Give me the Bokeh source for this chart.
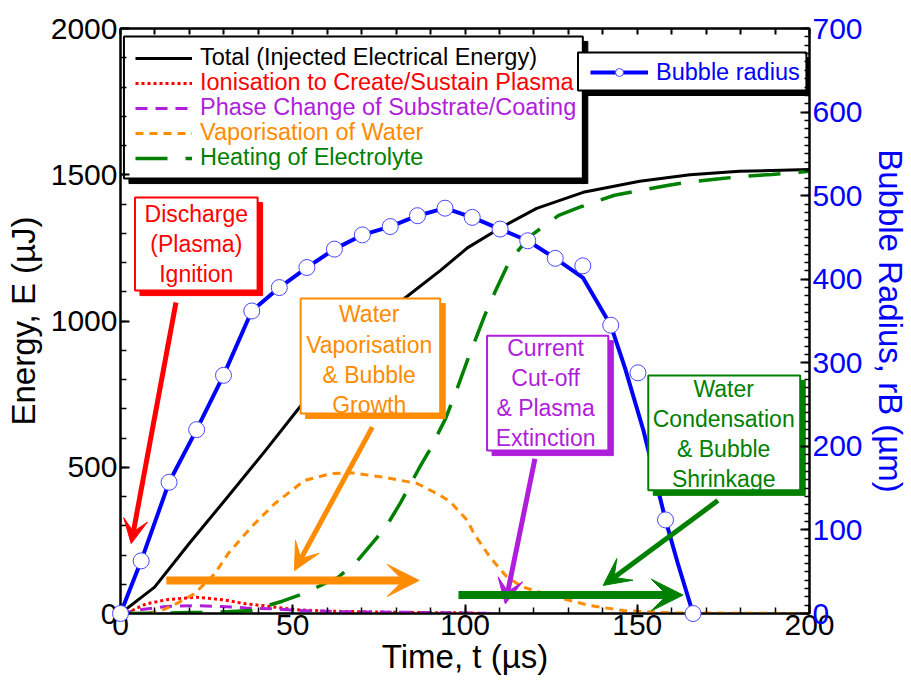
from bokeh.plotting import figure
from bokeh.models import (Range1d, LinearAxis, SingleIntervalTicker, Legend,
                          LegendItem, Arrow, VeeHead)
from bokeh.core.properties import value
from bokeh.embed import file_html
from bokeh.resources import INLINE

FONT = "Liberation Sans"
RED = "#FF0000"
PURPLE = "#B01EDC"
ORANGE = "#FF8C00"
GREEN = "#008000"
BLUE = "#0000FF"

# ---------------- data ----------------
total_t = [0, 9.9, 20, 31.2, 42, 52.4, 62, 72, 82.3, 92.9, 100.7, 110.2, 120.8,
           134.3, 150.7, 165.3, 179.7, 200]
total_e = [0, 90, 240, 400, 556, 711, 840, 962, 1076, 1173, 1250, 1318, 1385,
           1440, 1478, 1500, 1512, 1518]

ion_t = [0, 2.2, 7.5, 13.3, 22, 29.7, 36.4, 41.3, 50.9, 60, 80, 100, 107]
ion_e = [0, 4, 33, 47, 56, 47, 33, 27, 13, 8, 4, 2, 0]

phase_t = [0, 5.6, 13.3, 21.5, 29.2, 36.4, 44.2, 51.9, 65, 85, 100, 109]
phase_e = [0, 13, 24, 27, 24, 19, 16, 10, 6, 4, 2, 0]

vap_t = [0, 7.4, 11.9, 17.1, 21.5, 27.3, 31.2, 37.9, 44.7, 53.4, 61.1, 66.9,
         76.5, 86.2, 92.9, 95.8, 100.7, 102.6, 107.3, 112.2, 116.9, 126.6,
         136.3, 146.0, 160.4, 200]
vap_e = [0, 0, 10, 39, 68, 135, 204, 295, 375, 455, 478, 481, 466, 444, 403,
         381, 318, 273, 192, 124, 90, 56, 27, 10, 2, 0]

heat_t = [0, 9.4, 19.6, 29.7, 37.9, 47.0, 53.1, 63.2, 68.8, 77.0, 81.3, 86.6,
          89.6, 94.4, 97.7, 100.8, 105.9, 108.9, 113.0, 119.1, 127.2, 133.3,
          143.4, 148.5, 158.7, 164.8, 173.9, 180.0, 189.1, 200]
heat_e = [0, 1, 3, 5, 10, 42, 68, 124, 181, 295, 379, 495, 556, 667, 768, 869,
          1024, 1104, 1207, 1292, 1361, 1389, 1430, 1441, 1463, 1475, 1486,
          1494, 1501, 1512]

rad_line_t = [0, 6.0, 14.1, 22.1, 29.9, 38.1, 46.1, 54.1, 62.1, 70.2, 78.3,
              86.2, 94.2, 102.1, 110.2, 118.2, 126.2, 134.2, 142.3, 146.5,
              151.8, 158.2, 161.7, 166.2]
rad_line_r = [0, 63, 157, 220, 285, 362, 390, 414, 436, 453, 463, 476, 485,
              474, 460, 446, 425, 402, 345, 293, 219, 112, 61, 0]

rad_mk_t = [0, 6.0, 14.1, 22.1, 29.9, 38.1, 46.1, 54.1, 62.1, 70.2, 78.3,
            86.2, 94.2, 102.1, 110.2, 118.2, 126.2, 134.2, 142.3, 150.2,
            158.2, 166.2]
rad_mk_r = [0, 63, 157, 220, 285, 362, 390, 414, 436, 453, 463, 476, 485,
            474, 460, 446, 425, 416, 345, 288, 112, 0]

series_labels = ["Total (Injected Electrical Energy)",
                 "Ionisation to Create/Sustain Plasma",
                 "Phase Change of Substrate/Coating",
                 "Vaporisation of Water",
                 "Heating of Electrolyte"]

# ---------------- figure ----------------
p = figure(width=911, height=687, output_backend="svg", toolbar_location=None,
           x_range=Range1d(0, 200), y_range=Range1d(0, 2000),
           min_border_left=120, min_border_right=101, min_border_top=28,
           min_border_bottom=74,
           x_axis_label="Time, t (µs)", y_axis_label="Energy, E (µJ)")
p.extra_y_ranges = {"radius": Range1d(0, 700)}
p.xgrid.visible = False
p.ygrid.visible = False
p.outline_line_color = "black"
p.outline_line_width = 2


def style_axis(ax, color="black"):
    ax.axis_line_width = 2
    ax.axis_line_color = "black"
    ax.major_tick_in = 9
    ax.major_tick_out = 0
    ax.minor_tick_in = 6
    ax.minor_tick_out = 0
    ax.major_tick_line_width = 2
    ax.minor_tick_line_width = 1.5
    ax.major_tick_line_color = "black"
    ax.minor_tick_line_color = "black"
    ax.major_label_text_font = FONT
    ax.major_label_text_font_size = "30px"
    ax.major_label_text_color = color
    ax.major_label_standoff = 3
    ax.axis_label_text_font = FONT
    ax.axis_label_text_font_size = "33px"
    ax.axis_label_text_font_style = "normal"
    ax.axis_label_text_color = color
    ax.axis_label_standoff = 4


xa = p.xaxis[0]
xa.ticker = SingleIntervalTicker(interval=50, num_minor_ticks=5)
style_axis(xa)
xa.major_label_standoff = 1
xa.axis_label_standoff = 0

ya = p.yaxis[0]
ya.ticker = SingleIntervalTicker(interval=500, num_minor_ticks=5)
style_axis(ya)
ya.axis_label_standoff = 6

# top frame axis: ticks only, its labels are not drawn
top = LinearAxis(ticker=SingleIntervalTicker(interval=10, num_minor_ticks=0))
style_axis(top)
top.major_tick_in = 6
top.major_label_text_font_size = "1px"
top.major_label_text_color = None
top.major_label_standoff = 0
p.add_layout(top, "above")

ra = LinearAxis(y_range_name="radius",
                ticker=SingleIntervalTicker(interval=100, num_minor_ticks=10),
                axis_label="Bubble Radius, rB (µm)")
style_axis(ra, BLUE)
ra.minor_tick_in = 5
ra.axis_label_standoff = 6
p.add_layout(ra, "right")

# ---------------- series ----------------
r_total = p.line(total_t, total_e, line_color="black", line_width=3)
r_ion = p.line(ion_t, ion_e, line_color=RED, line_width=3, line_dash="3 3")
r_phase = p.line(phase_t, phase_e, line_color=PURPLE, line_width=3,
                 line_dash="12 8")
r_vap = p.line(vap_t, vap_e, line_color=ORANGE, line_width=3, line_dash="8 6")
r_heat = p.line(heat_t, heat_e, line_color=GREEN, line_width=3.5,
                line_dash="32 18")
r_rad = p.line(rad_line_t, rad_line_r, y_range_name="radius",
               line_color=BLUE, line_width=4)

# ---------------- annotation boxes (with drop shadows) ----------------
box_l = [4.2, 52.3, 106.4, 153.2, 1.0, 132.8]
box_r = [39.8, 92.8, 141.6, 197.3, 134.2, 199.1]
box_t = [1422, 1077, 950, 814, 1973, 1918]
box_b = [1104, 684, 557, 421, 1487, 1788]
box_c = [RED, ORANGE, PURPLE, GREEN, "black", "black"]
dx, dy = 1.45, 17.1
p.quad(left=[v + dx for v in box_l], right=[v + dx for v in box_r],
       top=[v - dy for v in box_t], bottom=[v - dy for v in box_b],
       fill_color=box_c, line_color=box_c)
p.quad(left=box_l, right=box_r, top=box_t, bottom=box_b,
       fill_color="white", line_color=box_c, line_width=2)

p.text(x=[22.0, 72.2, 123.4, 175.1], y=[1264, 868, 754, 614],
       text=["Discharge\n(Plasma)\nIgnition",
             "Water\nVaporisation\n& Bubble\nGrowth",
             "Current\nCut-off\n& Plasma\nExtinction",
             "Water\nCondensation\n& Bubble\nShrinkage"],
       text_color=[RED, ORANGE, PURPLE, GREEN], text_align="center",
       text_baseline="middle", text_font=value(FONT), text_font_size="23px",
       text_line_height=1.16)

# ---------------- arrows ----------------
arrows = [
    (16.1, 1063, 3.1, 239, RED, 5, 24),
    (73.1, 637, 50.5, 147, ORANGE, 5, 27),
    (13.3, 113, 86.7, 113, ORANGE, 8, 32),
    (120.3, 529, 111.7, 33, PURPLE, 5, 25),
    (173.4, 386, 140.1, 96, GREEN, 5, 27),
    (98.1, 63, 163.3, 63, GREEN, 8, 32),
]
for x0, y0, x1, y1, c, w, s in arrows:
    p.add_layout(Arrow(x_start=x0, y_start=y0, x_end=x1, y_end=y1,
                       line_color=c, line_width=w,
                       end=VeeHead(size=s, fill_color=c, line_color=c,
                                   line_width=1)))

# markers on top
r_mk = p.scatter(rad_mk_t, rad_mk_r, y_range_name="radius", marker="circle",
                 size=16, fill_color="white", line_color="#4848FF",
                 line_width=1, level="overlay")

# ---------------- legends ----------------
rows_y = [58.3, 83.3, 108.3, 133.3, 158.3]
leg_colors = ["black", RED, PURPLE, ORANGE, GREEN]
leg_rends = [r_total, r_ion, r_phase, r_vap, r_heat]


def make_legend(label, rends, color, vx, vy, gw):
    return Legend(items=[LegendItem(label=label, renderers=rends)],
                  location=(vx, vy), label_text_color=color,
                  label_text_font=FONT, label_text_font_size="23.5px",
                  glyph_width=gw, glyph_height=20, label_standoff=8,
                  padding=0, margin=0, spacing=0,
                  border_line_alpha=0, background_fill_alpha=0)


for lab, rend, col, ry in zip(series_labels, leg_rends, leg_colors, rows_y):
    p.add_layout(make_legend(lab, [rend], col, 15, 613 - ry - 13, 57))

p.add_layout(make_legend("Bubble radius", [r_rad, r_mk], BLUE, 470,
                         613 - 72.7 - 13, 58))

open("out.html", "w").write(file_html(p, INLINE))
